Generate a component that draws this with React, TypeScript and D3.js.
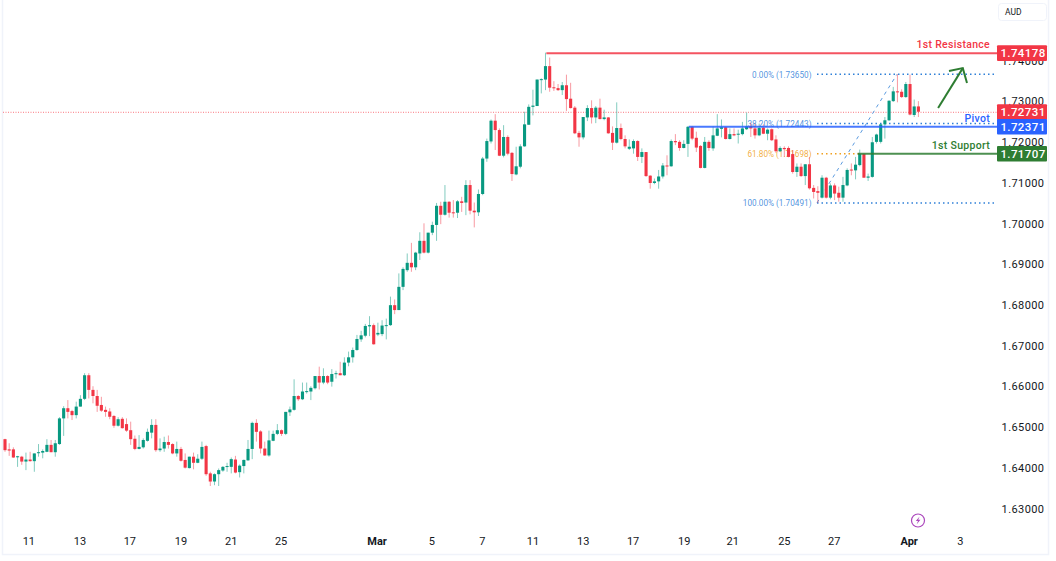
import React from "react";
import * as d3 from "d3";

// Four-hour candles, quoted in units of 0.0001 AUD
const opens = [
16469,16444,16444,16425,16426,16414,16419,16415,16435,16436,
16438,16455,16437,16457,16520,16545,16538,16528,16549,16568,
16626,16590,16575,16553,16541,16537,16526,16502,16519,16506,
16491,16470,16445,16449,16465,16485,16504,16442,16446,16462,
16457,16434,16445,16418,16398,16426,16411,16421,16452,16385,
16365,16383,16392,16401,16401,16419,16388,16403,16417,16445,
16509,16488,16446,16429,16465,16482,16491,16482,16535,16541,
16575,16567,16586,16586,16594,16624,16608,16624,16610,16629,
16631,16626,16657,16670,16688,16714,16723,16746,16749,16726,
16727,16748,16749,16798,16786,16843,16884,16902,16891,16925,
16956,16927,16976,16995,17042,17020,17052,17026,17025,17053,
17050,17093,17030,17026,17071,17158,17200,17251,17228,17165,
17211,17172,17119,17138,17188,17241,17285,17287,17352,17352,
17385,17333,17331,17326,17338,17305,17283,17221,17210,17259,
17282,17259,17283,17255,17259,17221,17197,17233,17206,17182,
17183,17201,17162,17174,17116,17098,17102,17114,17141,17139,
17201,17199,17184,17194,17236,17209,17189,17135,17199,17183,
17214,17231,17235,17206,17218,17217,17218,17230,17238,17232,
17215,17234,17219,17230,17205,17176,17184,17184,17169,17125,
17138,17115,17144,17086,17078,17062,17111,17062,17092,17074,
17062,17092,17131,17129,17142,17169,17111,17113,17199,17199,
17242,17252,17299,17323,17322,17309,17341,17265,17286];
const highs = [
16470,16459,16449,16428,16428,16436,16438,16434,16457,16444,
16469,16467,16467,16523,16550,16565,16541,16561,16577,16631,
16631,16599,16590,16573,16549,16545,16528,16523,16523,16520,
16512,16478,16479,16471,16495,16518,16518,16471,16475,16478,
16459,16463,16450,16434,16426,16436,16432,16463,16455,16389,
16385,16397,16403,16411,16424,16428,16407,16419,16467,16512,
16518,16491,16463,16490,16490,16506,16493,16536,16549,16616,
16577,16608,16608,16599,16624,16647,16643,16626,16641,16637,
16659,16670,16684,16694,16725,16735,16752,16771,16753,16755,
16761,16765,16819,16812,16876,16891,16925,16951,16929,16977,
16999,16976,17003,17049,17052,17093,17053,17056,17056,17064,
17105,17105,17050,17082,17162,17207,17254,17267,17232,17240,
17215,17174,17187,17193,17273,17291,17327,17352,17355,17418,
17406,17348,17341,17346,17364,17344,17287,17226,17260,17289,
17301,17287,17305,17278,17260,17237,17296,17244,17215,17205,
17205,17203,17183,17174,17117,17109,17130,17147,17166,17205,
17218,17203,17203,17238,17238,17224,17191,17211,17203,17237,
17267,17254,17236,17232,17232,17229,17248,17271,17246,17244,
17244,17242,17232,17232,17215,17188,17188,17188,17179,17146,
17146,17144,17162,17093,17090,17117,17113,17097,17097,17089,
17113,17134,17146,17162,17180,17170,17121,17211,17219,17244,
17260,17301,17334,17365,17328,17346,17364,17303,17299];
const lows = [
16438,16428,16423,16401,16406,16393,16414,16389,16426,16422,
16437,16437,16426,16455,16477,16520,16516,16520,16549,16565,
16569,16557,16536,16536,16524,16518,16497,16500,16495,16487,
16455,16442,16444,16446,16463,16471,16438,16438,16438,16446,
16432,16426,16414,16397,16397,16395,16410,16418,16379,16354,
16356,16354,16389,16389,16385,16385,16375,16385,16416,16420,
16463,16434,16428,16426,16464,16479,16477,16479,16526,16539,
16563,16565,16581,16565,16591,16591,16604,16604,16598,16618,
16626,16624,16648,16657,16686,16708,16719,16722,16701,16722,
16722,16714,16747,16776,16786,16835,16880,16880,16884,16909,
16925,16925,16970,16956,16997,17018,17013,17013,17012,17027,
17019,17021,16989,17017,17068,17150,17195,17179,17164,17161,
17166,17103,17117,17134,17187,17241,17264,17287,17318,17326,
17322,17324,17324,17314,17275,17281,17218,17187,17205,17250,
17244,17245,17254,17252,17219,17179,17195,17203,17183,17179,
17170,17152,17147,17113,17084,17095,17084,17109,17117,17138,
17191,17177,17183,17162,17203,17174,17134,17134,17177,17177,
17213,17210,17205,17205,17213,17195,17215,17228,17211,17207,
17213,17218,17203,17201,17172,17174,17162,17161,17121,17113,
17113,17093,17082,17060,17049,17060,17060,17058,17056,17052,
17052,17090,17117,17107,17139,17111,17103,17111,17195,17195,
17207,17250,17297,17296,17307,17307,17264,17260,17260];
const closes = [
16442,16441,16424,16427,16414,16419,16415,16434,16437,16440,
16455,16437,16459,16520,16545,16536,16528,16549,16568,16626,
16590,16575,16551,16539,16536,16524,16502,16518,16496,16490,
16469,16445,16450,16467,16487,16504,16442,16446,16462,16455,
16434,16445,16416,16399,16426,16411,16421,16450,16383,16365,
16383,16393,16401,16403,16420,16387,16404,16418,16445,16509,
16487,16446,16429,16466,16482,16491,16482,16536,16542,16575,
16567,16586,16587,16595,16624,16608,16624,16608,16629,16631,
16626,16657,16670,16688,16715,16724,16747,16749,16702,16730,
16748,16749,16798,16786,16843,16887,16902,16891,16927,16956,
16927,16976,16995,17042,17020,17052,17025,17024,17053,17049,
17093,17030,17026,17071,17158,17201,17251,17228,17165,17211,
17170,17120,17139,17188,17242,17285,17288,17352,17353,17385,
17332,17331,17326,17338,17304,17282,17220,17210,17260,17282,
17259,17283,17255,17259,17220,17197,17233,17206,17188,17187,
17201,17162,17174,17115,17098,17102,17114,17141,17139,17201,
17198,17184,17194,17236,17207,17185,17135,17199,17184,17215,
17232,17235,17206,17218,17215,17219,17232,17237,17232,17215,
17233,17219,17229,17203,17176,17184,17181,17162,17125,17138,
17115,17144,17085,17076,17074,17111,17062,17092,17072,17062,
17093,17130,17129,17143,17169,17111,17114,17198,17217,17242,
17252,17300,17323,17322,17309,17341,17266,17286,17273];

const priceTicks = [1.63, 1.64, 1.65, 1.66, 1.67, 1.68, 1.69, 1.7, 1.71, 1.72, 1.73, 1.74];
const dateLabels = ["11", "13", "17", "19", "21", "25", "Mar", "5", "7", "11", "13", "17", "19", "21", "25", "27", "Apr", "3"];
const dateCandle = [5.7, 17.9, 29.8, 42, 54, 65.9, 88.8, 101.9, 113.9, 126, 138, 149.9, 162.1, 173.7, 186, 197.9, 215.8, 228];

const levelNames = ["1st Resistance", "Pivot", "1st Support"];
const levelValues = [1.74178, 1.72371, 1.71707];
const levelStart = [129.2, 163.2, 203.5];
const levelColors = ["#f23645", "#2962ff", "#2e7d32"];
const lastPrice = 1.72731;

const fibRatios = ["0.00%", "38.20%", "61.80%", "100.00%"];
const fibValues = [1.7365, 1.72443, 1.71698, 1.70491];
const fibColors = ["#2f80d8", "#2f80d8", "#f0a020", "#2f80d8"];
const fibStart = 193.8;
const fibTip = 212.9;
const fibOrangeEnd = 204;
const arrowFrom = [222.7, 1.72822];
const arrowTo = [228.6, 1.738];
const arrowHeadA = [225.3, 1.7373];
const arrowHeadB = [229.6, 1.73436];

const UP = "#089981";
const DOWN = "#f23645";
const FONT = "Roboto, 'Open Sans', sans-serif";

const x = d3.scaleLinear().domain([0, 218]).range([5, 918.4]);
const y = d3.scaleLinear().domain([1.63, 1.74]).range([508, 60]);
const fmt = d3.format(".5f");

export default function App() {
  const plotRight = 997;
  const bodyW = 3.1;
  const candles = d3.range(opens.length).map((i) => ({
    i,
    o: opens[i] / 1e4,
    h: highs[i] / 1e4,
    l: lows[i] / 1e4,
    c: closes[i] / 1e4,
  }));
  const arrowPath = d3.line()([
    [x(arrowFrom[0]), y(arrowFrom[1])],
    [x(arrowTo[0]), y(arrowTo[1])],
  ] as [number, number][]) as string;
  const headPath = d3.line()([
    [x(arrowHeadA[0]), y(arrowHeadA[1])],
    [x(arrowTo[0]), y(arrowTo[1])],
    [x(arrowHeadB[0]), y(arrowHeadB[1])],
  ] as [number, number][]) as string;

  return (
    <svg
      width={1056}
      height={561}
      viewBox="0 0 1056 561"
      style={{ position: "fixed", left: 0, top: 0, background: "#fff", fontFamily: FONT }}
    >
      <rect x={2.5} y={-2} width={1046} height={556.5} fill="none" stroke="#f0f3fa" strokeWidth={1.5} />

      {/* current price line */}
      <line x1={3} x2={plotRight} y1={y(lastPrice) + 0.6} y2={y(lastPrice) + 0.6} stroke="#f7525f" strokeOpacity={0.8} strokeWidth={1} strokeDasharray="1 1.5" />

      {/* fibonacci levels */}
      <line
        x1={x(fibStart)}
        y1={y(fibValues[3])}
        x2={x(fibTip)}
        y2={y(fibValues[0])}
        stroke="#5b9be0"
        strokeWidth={1}
        strokeDasharray="3.5 4"
      />
      {fibValues.map((v, i) => (
        <g key={i}>
          <line
            x1={x(fibStart)}
            x2={i === 2 ? x(fibOrangeEnd) : plotRight}
            y1={y(v)}
            y2={y(v)}
            stroke={fibColors[i]}
            strokeWidth={1.5}
            strokeDasharray="1.5 3"
          />
          <text x={811.5} y={y(v) + 0.5} dy="0.35em" textAnchor="end" fontSize={8.2} fill={fibColors[i]} fillOpacity={0.85}>
            {fibRatios[i]} ({fmt(v)})
          </text>
        </g>
      ))}

      {/* candles */}
      {candles.map((d) => {
        const col = d.c >= d.o ? UP : DOWN;
        const top = y(Math.max(d.o, d.c));
        const bot = y(Math.min(d.o, d.c));
        return (
          <g key={d.i}>
            <line x1={x(d.i)} x2={x(d.i)} y1={y(d.h)} y2={y(d.l)} stroke={col} strokeOpacity={0.5} strokeWidth={1} />
            <rect x={x(d.i) - bodyW / 2} y={top} width={bodyW} height={Math.max(bot - top, 1)} fill={col} />
          </g>
        );
      })}

      {/* horizontal levels */}
      {levelValues.map((v, i) => (
        <g key={i}>
          <line x1={x(levelStart[i])} x2={plotRight} y1={y(v) + 0.4} y2={y(v) + 0.4} stroke={levelColors[i]} strokeOpacity={0.85} strokeWidth={2} />
          <text
            x={990}
            y={y(v) - 4.5}
            textAnchor="end"
            fontSize={10.5}
            fontWeight={500}
            letterSpacing={0.3}
            fill={levelColors[i]}
          >
            {levelNames[i]}
          </text>
        </g>
      ))}

      {/* arrow */}
      <path d={arrowPath} fill="none" stroke="#2e7d32" strokeWidth={2} />
      <path d={headPath} fill="none" stroke="#2e7d32" strokeWidth={2} />

      {/* price axis */}
      {priceTicks.map((t) => (
        <text key={t} x={1023} y={y(t) + 0.8} dy="0.35em" textAnchor="middle" fontSize={11} letterSpacing={0.4} fill="#131722">
          {fmt(t)}
        </text>
      ))}
      {[levelValues[0], lastPrice, levelValues[1], levelValues[2]].map((v, i) => {
        const fill = [levelColors[0], DOWN, levelColors[1], levelColors[2]][i];
        return (
          <g key={i}>
            <rect x={997} y={y(v) - 7.4} width={50} height={15.6} fill={fill} rx={1} />
            <text x={1023} y={y(v) + 0.5} dy="0.36em" textAnchor="middle" fontSize={11.5} fontWeight={500} letterSpacing={0.4} fill="#fff">
              {fmt(v)}
            </text>
          </g>
        );
      })}

      {/* currency button */}
      <rect x={998.5} y={3.5} width={48} height={17} rx={3} fill="#fff" stroke="#f0f3fa" />
      <text x={1005} y={12.5} dy="0.35em" fontSize={8.5} fill="#131722">AUD</text>

      {/* time axis */}
      {dateLabels.map((t, i) => (
        <text
          key={i}
          x={x(dateCandle[i])}
          y={544.5}
          textAnchor="middle"
          fontSize={11}
          fontWeight={t === "Mar" || t === "Apr" ? 700 : 400}
          fill="#131722"
        >
          {t}
        </text>
      ))}

      {/* event marker */}
      <circle cx={918} cy={520.5} r={6.5} fill="#fff" stroke="#ab47bc" strokeWidth={1.2} />
      <path d="M919.6 516.4 L915.8 521 L918 521 L916.6 524.6 L920.4 519.8 L918.2 519.8 Z" fill="#ab47bc" />
    </svg>
  );
}
